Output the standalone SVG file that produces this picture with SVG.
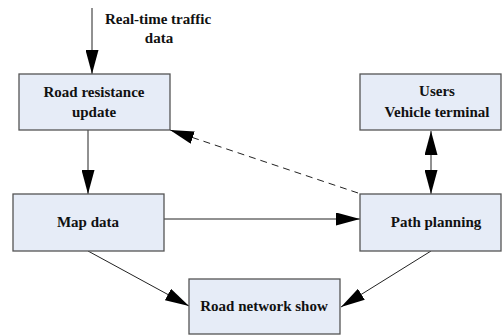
<svg xmlns="http://www.w3.org/2000/svg" width="502" height="336" viewBox="0 0 502 336">
<style>
.box{fill:#e6ecf7;stroke:#555;stroke-width:1.3}
.t{font-family:"Liberation Serif","Times New Roman",serif;font-weight:bold;font-size:15px;fill:#111;text-anchor:middle}
.c{fill:none;stroke:#222;stroke-width:1}
.d{stroke-dasharray:7,5}
</style>
<defs>
<marker id="ah" markerUnits="userSpaceOnUse" markerWidth="24" markerHeight="13" refX="24" refY="6.5" orient="auto-start-reverse" viewBox="0 0 24 13">
<path d="M0,0 L24,6.5 L0,13 z" fill="#000"/>
</marker>
</defs>
<rect width="502" height="336" fill="#fff"/>
<g id="connectors">
<line class="c" x1="92" y1="8" x2="92" y2="74" marker-end="url(#ah)"/>
<line class="c" x1="88" y1="130" x2="88" y2="194" marker-end="url(#ah)"/>
<line class="c" x1="431" y1="131" x2="431" y2="194" marker-start="url(#ah)" marker-end="url(#ah)"/>
<line class="c" x1="164" y1="219" x2="360" y2="219" marker-end="url(#ah)"/>
<line class="c" x1="88" y1="251" x2="189" y2="306" marker-end="url(#ah)"/>
<line class="c" x1="431" y1="251" x2="341" y2="307" marker-end="url(#ah)"/>
<line class="c d" x1="358" y1="193" x2="170" y2="130" marker-end="url(#ah)"/>
</g>
<g id="label-realtime">
<text class="t" x="158" y="24">Real-time traffic</text>
<text class="t" x="159" y="43">data</text>
</g>
<g id="road-resistance">
<rect class="box" x="19" y="74" width="151" height="56"/>
<text class="t" x="94" y="97">Road resistance</text>
<text class="t" x="94" y="117">update</text>
</g>
<g id="users">
<rect class="box" x="360" y="74" width="141" height="56"/>
<text class="t" x="437" y="96">Users</text>
<text class="t" x="437" y="117">Vehicle terminal</text>
</g>
<g id="map-data">
<rect class="box" x="13" y="194" width="151" height="57"/>
<text class="t" x="88" y="227">Map data</text>
</g>
<g id="path-planning">
<rect class="box" x="360" y="194" width="141" height="57"/>
<text class="t" x="436" y="227">Path planning</text>
</g>
<g id="road-network">
<rect class="box" x="189" y="279" width="151" height="55"/>
<text class="t" x="264" y="311">Road network show</text>
</g>
</svg>
